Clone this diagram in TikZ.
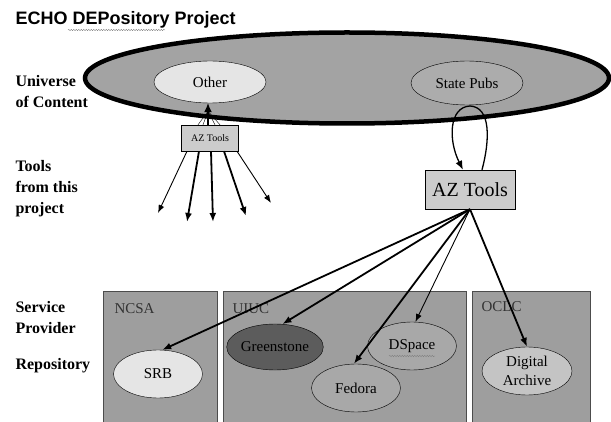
\documentclass[tikz,border=0pt]{standalone}
\usepackage{fontspec}
\setmainfont{Liberation Serif}
\newfontfamily\titlefont{Liberation Sans}
\newfontfamily\labelfont{Liberation Serif}
\usepackage{tikz}
\usetikzlibrary{arrows.meta,positioning,shapes.geometric,decorations.pathmorphing}

\definecolor{univgray}{gray}{0.64}
\definecolor{lightgray}{gray}{0.90}
\definecolor{toolgray}{gray}{0.80}
\definecolor{provgray}{gray}{0.62}
\definecolor{darkgray}{gray}{0.36}
\definecolor{midgray}{gray}{0.66}
\definecolor{archgray}{gray}{0.77}

\begin{document}
\begin{tikzpicture}[x=1pt, y=-1pt,
  every node/.style={font=\labelfont\fontsize{15}{19}\selectfont},
  blob/.style={draw, ellipse, thin, inner sep=0pt,
               minimum width=89pt, minimum height=48pt, align=center},
  toolbox/.style={draw, thin, fill=toolgray, inner sep=0pt},
  provbox/.style={draw=black!70, thin, fill=provgray, anchor=north west,
                  inner sep=0pt, minimum height=140pt},
  provlbl/.style={anchor=west, text=black!80},
  side/.style={anchor=west, align=left,
               font=\labelfont\bfseries\fontsize{16}{21}\selectfont},
  fat/.style={line width=1.8pt, -{Latex[length=9pt,width=7pt]}},
  slim/.style={line width=0.9pt, -{Latex[length=8pt,width=6pt]}},
  squiggle/.style={draw=gray, line width=0.4pt, decorate,
                   decoration={snake, amplitude=0.7pt, segment length=2.5pt}}
]
\useasboundingbox (0,0) rectangle (611,422);
\clip (0,0) rectangle (611,422);

%% ---- Title ---------------------------------------------------------
\node[anchor=west, font=\titlefont\bfseries\fontsize{18}{20}\selectfont]
     (title) at (12,20) {ECHO DEPository Project};
\path[squiggle] (68,30) -- (165,30);

%% ---- Universe of content (top) -------------------------------------
\node[ellipse, draw, line width=4.5pt, fill=univgray, inner sep=0pt,
      minimum width=524pt, minimum height=91pt] (universe) at (347,78) {};
\node[blob, fill=lightgray, minimum width=112pt, minimum height=42pt]
     (other) at (210,82) {Other};
\node[blob, fill=univgray!90!white, minimum width=112pt, minimum height=44pt]
     (statepubs) at (467,83) {State Pubs};

%% ---- Tools ---------------------------------------------------------
\node[toolbox, minimum width=57pt, minimum height=26pt,
      font=\labelfont\fontsize{10}{12}\selectfont] (azsmall) at (210,138) {AZ Tools};
\node[toolbox, minimum width=90pt, minimum height=39pt,
      font=\labelfont\fontsize{20}{24}\selectfont] (aztools) at (470,189.5) {AZ Tools};

% small box feeds "Other"
\foreach \dx in {-12,-7,5,10}
  \draw[thin] ([xshift=\dx pt]azsmall.north) -- ([xshift=-2pt,yshift=-8pt]other.south);
\draw[line width=1.2pt, -{Latex[length=9pt,width=8pt]}]
     ([xshift=-2pt]azsmall.north) -- ([xshift=-2pt]other.south);

% fan of tools from this project
\coordinate (f1) at (158,213);
\coordinate (f2) at (187,222);
\coordinate (f3) at (213,222);
\coordinate (f4) at (246,216);
\coordinate (f5) at (271,203);
\draw[slim] ([xshift=-23pt]azsmall.south) -- (f1);
\draw[fat]  ([xshift=-11pt]azsmall.south) -- (f2);
\draw[fat]  ([xshift=1pt]azsmall.south)   -- (f3);
\draw[fat]  ([xshift=14pt]azsmall.south)  -- (f4);
\draw[slim] ([xshift=27pt]azsmall.south)  -- (f5);

% loop between State Pubs and AZ Tools
\draw[line width=1.3pt, -{Latex[length=9pt,width=7pt]}]
     ([xshift=12pt]aztools.north) .. controls (490,140) and (491,107) .. (470,106)
     .. controls (449,107) and (448,140) .. ([xshift=-7pt]aztools.north);

%% ---- Service providers (bottom) ------------------------------------
\node[provbox, minimum width=114pt] (ncsa) at (103,291) {};
\node[provbox, minimum width=243pt] (uiuc) at (223,291) {};
\node[provbox, minimum width=118pt] (oclc) at (472,291) {};
\node[provlbl] (ncsalbl) at (111,309) {NCSA};
\node[provlbl] (uiuclbl) at (229,309) {UIUC};
\node[provlbl] (oclclbl) at (478,307) {OCLC};

%% ---- Repositories --------------------------------------------------
\node[blob, fill=lightgray]              (srb)    at (158,374) {SRB};
\node[blob, fill=darkgray, minimum width=90pt, minimum height=46pt]
     (green)  at (275,347) {Greenstone};
\node[blob, fill=midgray]                (dspace) at (412,346) {DSpace};
\path[squiggle] (389,356) -- (435,356);
\node[blob, fill=midgray]                (fedora) at (356,388) {Fedora};
\node[blob, fill=archgray, minimum width=90pt]
     (archive) at (527,371) {Digital\\Archive};

\draw[fat]  (aztools.south) -- (srb.80);
\draw[fat]  (aztools.south) -- (green.72);
\draw[fat]  (aztools.south) -- (fedora.95);
\draw[slim] (aztools.south) -- (dspace.82);
\draw[fat]  (aztools.south) -- (archive.north);

%% ---- Row labels (left) ---------------------------------------------
\node[side] (univlbl) at (12,92)  {Universe\\of Content};
\node[side] (toollbl) at (12,189) {Tools\\from this\\project};
\node[side] (provlbl) at (12,318) {Service\\Provider};
\node[side] (repolbl) at (12,366) {Repository};

\end{tikzpicture}
\end{document}
